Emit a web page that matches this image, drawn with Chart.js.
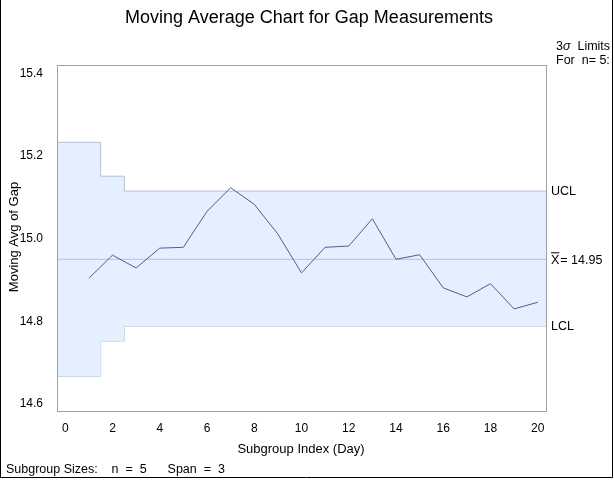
<!DOCTYPE html>
<html>
<head>
<meta charset="utf-8">
<script src="https://cdn.jsdelivr.net/npm/chart.js@4/dist/chart.umd.min.js"></script>
<style>
  html, body { margin: 0; padding: 0; background: #fff; }
  #wrap { width: 614px; height: 480px; position: relative; }
</style>
</head>
<body>
<div id="wrap"><canvas id="c" width="614" height="480"></canvas></div>
<script>
'use strict';

/* ───── DATA ───── */
const subgroups  = [1, 2, 3, 4, 5, 6, 7, 8, 9, 10, 11, 12, 13, 14, 15, 16, 17, 18, 19, 20];
const movingAvg  = [14.904, 14.960, 14.929, 14.977, 14.979, 15.066, 15.123, 15.083, 15.011, 14.917,
                    14.979, 14.982, 15.048, 14.950, 14.961, 14.881, 14.859, 14.891, 14.830, 14.846];
const uclValues  = [15.233, 15.151, 15.115, 15.115, 15.115, 15.115, 15.115, 15.115, 15.115, 15.115,
                    15.115, 15.115, 15.115, 15.115, 15.115, 15.115, 15.115, 15.115, 15.115, 15.115];
const lclValues  = [14.667, 14.752, 14.788, 14.788, 14.788, 14.788, 14.788, 14.788, 14.788, 14.788,
                    14.788, 14.788, 14.788, 14.788, 14.788, 14.788, 14.788, 14.788, 14.788, 14.788];
const centerMean = 14.95;
const xTicks     = [0, 2, 4, 6, 8, 10, 12, 14, 16, 18, 20];
const yTicks     = [14.6, 14.8, 15.0, 15.2, 15.4];
const X_MIN = -0.35, X_MAX = 20.35, Y_MIN = 14.583, Y_MAX = 15.42;

const FONT = '"Liberation Sans", Arial, sans-serif';
const AXIS = '#a0a0a0';

/* step band: limit holds over each subgroup, switching half-way between them */
function bandPoints(vals) {
    const pts = [{ x: X_MIN, y: vals[0] }];
    for (let i = 1; i < vals.length; i++) {
        if (vals[i] !== vals[i - 1]) pts.push({ x: subgroups[i] - 0.5, y: vals[i] });
    }
    pts.push({ x: X_MAX, y: vals[vals.length - 1] });
    return pts;
}

/* ───── FRAME + TEXT PLUGIN ───── */
const decor = {
    id: 'decor',
    afterDraw(chart) {
        const { ctx, chartArea: a, scales: { y } } = chart;
        ctx.save();
        // plot frame
        ctx.strokeStyle = AXIS; ctx.lineWidth = 1;
        ctx.strokeRect(Math.round(a.left) + 0.5, Math.round(a.top) + 0.5,
                       Math.round(a.right - a.left), Math.round(a.bottom - a.top));
        // outer border (left, right, bottom)
        ctx.strokeStyle = '#000';
        ctx.beginPath();
        ctx.moveTo(0.5, 0); ctx.lineTo(0.5, 477.5); ctx.lineTo(612.5, 477.5); ctx.lineTo(612.5, 0);
        ctx.stroke();

        ctx.fillStyle = '#000';
        ctx.textBaseline = 'middle';
        // title
        ctx.font = '18px ' + FONT; ctx.textAlign = 'center';
        ctx.fillText('Moving Average Chart for Gap Measurements', 309, 18);
        // axis titles
        ctx.font = '13px ' + FONT;
        ctx.fillText('Subgroup Index (Day)', 301, 449);
        ctx.save();
        ctx.translate(14, 237); ctx.rotate(-Math.PI / 2);
        ctx.fillText('Moving Avg of Gap', 0, 0);
        ctx.restore();
        // footnote
        ctx.textAlign = 'left';
        ctx.font = '12.5px ' + FONT;
        ctx.fillText('Subgroup Sizes:    n  =  5      Span  =  3', 6, 470);
        // limits header
        ctx.font = '12.5px ' + FONT;
        const rx = 556;
        ctx.fillText('3', rx, 47);
        let w = ctx.measureText('3').width;
        ctx.font = 'italic 12.5px ' + FONT;
        ctx.fillText('σ', rx + w, 47);
        w += ctx.measureText('σ').width;
        ctx.font = '12.5px ' + FONT;
        ctx.fillText('  Limits', rx + w, 47);
        ctx.fillText('For  n= 5:', rx, 61);
        // limit labels
        const lx = 551;
        ctx.fillText('UCL', lx, y.getPixelForValue(uclValues[uclValues.length - 1]));
        ctx.fillText('LCL', lx, y.getPixelForValue(lclValues[lclValues.length - 1]));
        const cy = y.getPixelForValue(centerMean);
        ctx.fillText('X', lx, cy + 1);
        const xw = ctx.measureText('X').width;
        ctx.strokeStyle = '#000';
        ctx.beginPath(); ctx.moveTo(lx, cy - 6.5); ctx.lineTo(lx + xw, cy - 6.5); ctx.stroke();
        ctx.fillText('= ' + centerMean.toFixed(2), lx + xw + 1, cy + 1);
        ctx.restore();
    },
};

/* ───── CHART ───── */
new Chart(document.getElementById('c').getContext('2d'), {
    type: 'line',
    data: {
        datasets: [
            {
                label: 'UCL', data: bandPoints(uclValues), stepped: true,
                borderColor: '#b6c1da', borderWidth: 1, pointRadius: 0,
                backgroundColor: '#e4efff', fill: '+1', order: 3,
            },
            {
                label: 'LCL', data: bandPoints(lclValues), stepped: true,
                borderColor: '#b6c1da', borderWidth: 1, pointRadius: 0, fill: false, order: 3,
            },
            {
                label: 'Mean', data: [{ x: X_MIN, y: centerMean }, { x: X_MAX, y: centerMean }],
                borderColor: '#b6c1da', borderWidth: 1, pointRadius: 0, fill: false, order: 2,
            },
            {
                label: 'Moving Avg', data: subgroups.map((s, i) => ({ x: s, y: movingAvg[i] })),
                borderColor: '#4f5d99', borderWidth: 1, pointRadius: 0, tension: 0, fill: false, order: 1,
            },
        ],
    },
    options: {
        responsive: false, animation: false,
        layout: { padding: { left: 0, right: 68, top: 65, bottom: 0 } },
        plugins: { legend: { display: false }, tooltip: { enabled: false } },
        scales: {
            x: {
                type: 'linear', min: X_MIN, max: X_MAX,
                afterBuildTicks: ax => { ax.ticks = xTicks.map(v => ({ value: v })); },
                ticks: { color: '#000', font: { family: FONT, size: 12 }, padding: 5, maxRotation: 0 },
                grid: { display: false, drawTicks: true, tickLength: 5, tickColor: AXIS },
                border: { display: false },
                afterFit: ax => { ax.height = 69; },
            },
            y: {
                type: 'linear', min: Y_MIN, max: Y_MAX,
                afterBuildTicks: ax => { ax.ticks = yTicks.map(v => ({ value: v })); },
                ticks: { color: '#000', font: { family: FONT, size: 12 }, padding: 9,
                         callback: v => v.toFixed(1) },
                grid: { display: false, drawTicks: true, tickLength: 5, tickColor: AXIS },
                border: { display: false },
                afterFit: ax => { ax.width = 57; },
            },
        },
    },
    plugins: [decor],
});
</script>
</body>
</html>
